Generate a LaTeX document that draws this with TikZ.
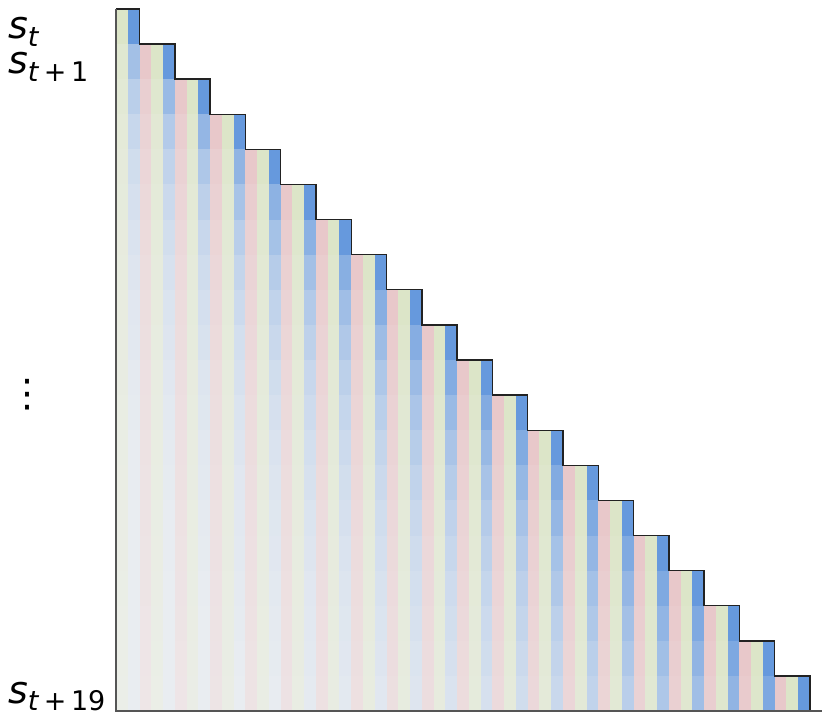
\documentclass[tikz,border=0pt]{standalone}
\usepackage{fontspec}
\setmainfont{DejaVu Sans}
\definecolor{cblue}{HTML}{6699DD}
\definecolor{cpink}{HTML}{E8C8CA}
\definecolor{cgreen}{HTML}{DCE5C8}
\definecolor{cbase}{HTML}{F0F1F2}
\definecolor{spinec}{HTML}{555555}
\definecolor{edgec}{HTML}{222222}
\newcommand\mysub[1]{\raisebox{-0.2em}{\fontsize{27}{27}\selectfont #1}}
\tikzset{
  lbl/.style={inner sep=0pt, anchor=base west, font=\fontsize{38}{38}\selectfont},
  outline/.style={draw=edgec, line width=1.4pt, line join=miter},
  spine/.style={draw=spinec, line width=1.3pt}
}
\begin{document}
\begin{tikzpicture}[x=1pt,y=-1pt]
\useasboundingbox (0,0) rectangle (831,722);
\def\xo{116}\def\yo{9}\def\cw{11.7627}\def\rh{35.1}
\foreach \r in {0,...,19}{
  \pgfmathsetmacro\lam{0.8/sqrt(\r+1)}
  \pgfmathtruncatemacro\last{3*\r+1}
  \foreach \c in {0,...,\last}{
    \pgfmathtruncatemacro\g{floor((\c+1)/3)}
    \pgfmathtruncatemacro\k{mod(\c,3)}
    \ifnum\k=1
      \pgfmathtruncatemacro\p{100*max(0.06,exp(-\lam*(\r-\g)))}
      \def\col{cblue}
    \else
      \pgfmathtruncatemacro\p{100*max(0.2,exp(-\lam*(\r-\g)/2.5))}
      \ifnum\k=0 \def\col{cgreen}\else\def\col{cpink}\fi
    \fi
    \fill[\col!\p!cbase] ({\xo+\c*\cw},{\yo+\r*\rh}) rectangle ++(\cw+0.3,\rh+0.3);
  }
}
\draw[outline] (\xo,\yo)
  \foreach \r in {0,...,19}{ -- ({\xo+(3*\r+2)*\cw},{\yo+\r*\rh}) -- ({\xo+(3*\r+2)*\cw},{\yo+(\r+1)*\rh}) };
\draw[spine] (\xo,\yo) -- (\xo,711) -- (822,711);
\node[lbl] (l0) at (8,39) {\textit{s}\mysub{\textit{t}}};
\node[lbl] (l1) at (8,74) {\textit{s}\mysub{\textit{t}\,+\,1}};
\node[lbl] (l19) at (8,703) {\textit{s}\mysub{\textit{t}\,+\,19}};
\node[inner sep=0pt, font=\fontsize{38}{38}\selectfont] (dots) at (28,395) {⋮};
\end{tikzpicture}
\end{document}
